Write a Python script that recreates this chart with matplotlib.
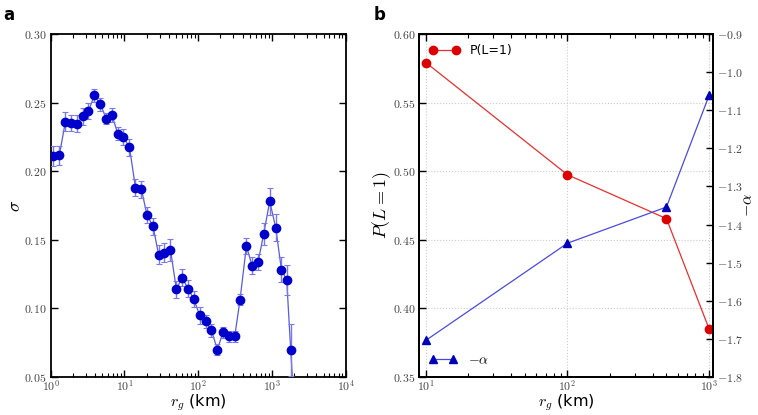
import numpy as np
import matplotlib
matplotlib.use('Agg')
import matplotlib.pyplot as plt
from matplotlib.ticker import FuncFormatter, LogLocator, FixedLocator, NullLocator

# panel a: sigma vs r_g
rg_a = [1.09, 1.31, 1.58, 1.91, 2.27, 2.72, 3.24, 3.91, 4.71, 5.69, 6.79, 8.1, 9.67,
        11.7, 14.1, 17.0, 20.2, 24.4, 29.1, 34.8, 42.0, 50.6, 60.4, 72.8, 86.9, 105,
        126, 151, 182, 217, 262, 313, 369, 450, 537, 648, 773, 932, 1125, 1342, 1585,
        1796, 2150]
sigma = [0.211, 0.2116, 0.236, 0.235, 0.2346, 0.240, 0.2438, 0.2552, 0.2487, 0.2383,
         0.2407, 0.2274, 0.2249, 0.2174, 0.188, 0.1867, 0.168, 0.1598, 0.139, 0.1405,
         0.1429, 0.1139, 0.1224, 0.1144, 0.1068, 0.0949, 0.0905, 0.0839, 0.070, 0.0827,
         0.0798, 0.0798, 0.1063, 0.1454, 0.1312, 0.1337, 0.1544, 0.178, 0.1588, 0.1283,
         0.1207, 0.0695, 0.0]
sigma_err = [0.007, 0.007, 0.007, 0.006, 0.006, 0.006, 0.006, 0.005, 0.005, 0.004,
             0.005, 0.005, 0.006, 0.006, 0.006, 0.006, 0.006, 0.006, 0.007, 0.007,
             0.008, 0.006, 0.006, 0.006, 0.006, 0.006, 0.005, 0.005, 0.004, 0.004,
             0.004, 0.004, 0.004, 0.006, 0.006, 0.006, 0.008, 0.010, 0.010, 0.009,
             0.011, 0.019, 0.0]

# panel b
rg_b = [10, 100, 500, 1000]
p_l1 = [0.5792, 0.4974, 0.4654, 0.385]
neg_alpha = [-1.704, -1.449, -1.354, -1.061]

plt.rcParams['mathtext.fontset'] = 'cm'
plt.rcParams['axes.linewidth'] = 1.3

TICKCOL = '#444444'


def num_fmt(fmt):
    return FuncFormatter(lambda v, p: r'$%s$' % (fmt % v))


def log_fmt(v, p):
    return r'$10^{%d}$' % int(round(np.log10(v)))


def style_ticks(ax):
    ax.tick_params(which='both', direction='in', colors='black', labelcolor=TICKCOL,
                   labelsize=8.5)
    ax.tick_params(which='major', length=5, width=1.0, pad=3)
    ax.tick_params(which='minor', length=3, width=0.8)


fig = plt.figure(figsize=(7.58, 4.15), dpi=100)

# ---- panel a
ax = fig.add_axes([0.0669, 0.0916, 0.3892, 0.8265])
ax.errorbar(rg_a, sigma, yerr=sigma_err, fmt='o', ms=6, color='#0000cc',
            ecolor='#7a7ae6', elinewidth=1.0, capsize=2, capthick=0.8, zorder=3)
ax.plot(rg_a, sigma, '-', color='#5a5ae0', lw=0.9, zorder=2)
ax.set_xscale('log')
ax.set_xlim(1, 1e4)
ax.set_ylim(0.05, 0.30)
ax.yaxis.set_major_locator(FixedLocator([0.05, 0.10, 0.15, 0.20, 0.25, 0.30]))
ax.yaxis.set_minor_locator(NullLocator())
ax.yaxis.set_major_formatter(num_fmt('%.2f'))
ax.xaxis.set_major_locator(LogLocator(base=10, numticks=10))
ax.xaxis.set_minor_locator(LogLocator(base=10, subs=np.arange(2, 10), numticks=20))
ax.xaxis.set_major_formatter(FuncFormatter(log_fmt))
style_ticks(ax)
ax.tick_params(which='both', top=True, right=True)
ax.tick_params(axis='x', which='major', pad=1.5)
ax.set_xlabel(r'$r_g$ (km)', fontsize=11.5, labelpad=-1)
ax.set_ylabel(r'$\sigma$', fontsize=13, labelpad=0)
fig.text(0.004, 0.965, 'a', fontsize=12, fontweight='bold', va='center')

# ---- panel b
ax1 = fig.add_axes([0.5532, 0.0916, 0.3878, 0.8265])
ax1.plot(rg_b, p_l1, 'o-', color='#e8302e', mfc='#dd0000', mec='#dd0000', ms=6,
         lw=0.9, label='P(L=1)')
ax1.set_xscale('log')
ax1.set_xlim(9, 1070)
ax1.set_ylim(0.35, 0.60)
ax1.yaxis.set_major_locator(FixedLocator([0.35, 0.40, 0.45, 0.50, 0.55, 0.60]))
ax1.yaxis.set_minor_locator(NullLocator())
ax1.yaxis.set_major_formatter(num_fmt('%.2f'))
ax1.xaxis.set_major_locator(LogLocator(base=10, numticks=10))
ax1.xaxis.set_minor_locator(LogLocator(base=10, subs=np.arange(2, 10), numticks=20))
ax1.xaxis.set_major_formatter(FuncFormatter(log_fmt))
ax1.grid(True, which='major', color='#cccccc', ls=':', lw=0.8)
style_ticks(ax1)
ax1.tick_params(which='both', top=True)
ax1.tick_params(axis='x', which='major', pad=1.5)
ax1.set_xlabel(r'$r_g$ (km)', fontsize=11.5, labelpad=-1)
ax1.set_ylabel(r'$P(L=1)$', fontsize=13, labelpad=0)
ax1.legend(loc='upper left', frameon=False, numpoints=2, fontsize=9,
           handlelength=2.4, handletextpad=0.8, borderaxespad=0.4)

ax2 = ax1.twinx()
ax2.plot(rg_b, neg_alpha, '^-', color='#4a4ae0', mfc='#0000bb', mec='#0000bb', ms=6,
         lw=0.9, label=r'$-\alpha$')
ax2.set_ylim(-1.8, -0.9)
ax2.yaxis.set_major_locator(FixedLocator(np.arange(-1.8, -0.85, 0.1)))
ax2.yaxis.set_minor_locator(NullLocator())
ax2.yaxis.set_major_formatter(num_fmt('%.1f'))
style_ticks(ax2)
ax2.set_ylabel(r'$-\alpha$', fontsize=11.5, labelpad=-2)
ax2.legend(loc='lower left', frameon=False, numpoints=2, fontsize=10,
           handlelength=2.0, handletextpad=0.8, borderaxespad=0.3)
fig.text(0.493, 0.965, 'b', fontsize=12, fontweight='bold', va='center')

fig.savefig('out.png', dpi=100)
